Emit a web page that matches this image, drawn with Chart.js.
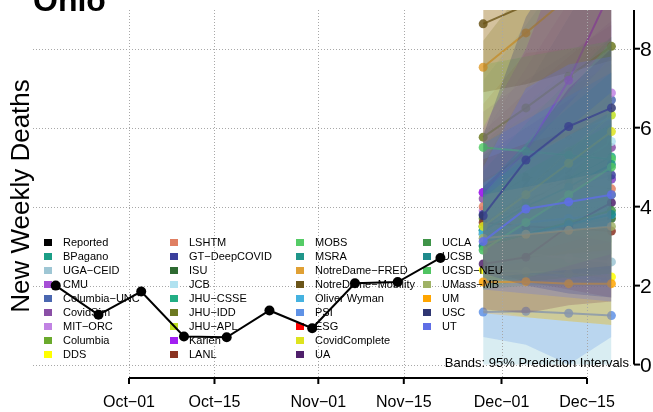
<!DOCTYPE html>
<html>
<head>
<meta charset="utf-8">
<script src="https://cdn.jsdelivr.net/npm/chart.js@4.4.0/dist/chart.umd.min.js"></script>
<style>
  html, body { margin: 0; padding: 0; background: #fff; }
  #wrap { width: 653px; height: 412px; }
</style>
</head>
<body>
<div id="wrap"><canvas id="myChart" width="653" height="412"></canvas></div>
<script>
//Data
const stateName = 'Ohio';
const yTitle = 'New Weekly Deaths';
const bandsNote = 'Bands: 95% Prediction Intervals';

const reportedDates = ['2020-09-19', '2020-09-26', '2020-10-03', '2020-10-10', '2020-10-17',
  '2020-10-24', '2020-10-31', '2020-11-07', '2020-11-14', '2020-11-21'];
const reportedDeaths = [2.0, 1.26, 1.85, 0.71, 0.69, 1.37, 0.92, 2.06, 2.09, 2.7];

const forecastDates = ['2020-11-28', '2020-12-05', '2020-12-12', '2020-12-19'];

const tickDates = ['2020-10-01', '2020-10-15', '2020-11-01', '2020-11-15', '2020-12-01', '2020-12-15'];
const tickLabels = ['Oct−01', 'Oct−15', 'Nov−01', 'Nov−15', 'Dec−01', 'Dec−15'];
const yTicks = [0, 2, 4, 6, 8];

const modelNames = ['BPagano', 'UGA−CEID', 'CMU', 'Columbia−UNC', 'CovidSim', 'MIT−ORC', 'Columbia', 'DDS',
  'LSHTM', 'GT−DeepCOVID', 'ISU', 'JCB', 'JHU−CSSE', 'JHU−IDD', 'JHU−APL', 'Karlen', 'LANL',
  'MOBS', 'MSRA', 'NotreDame−FRED', 'NotreDame−Mobility', 'Oliver Wyman', 'PSI', 'ESG', 'CovidComplete', 'UA',
  'UCLA', 'UCSB', 'UCSD−NEU', 'UMass−MB', 'UM', 'USC', 'UT'];
const modelColors = ['#1b9e86', '#9ec6d4', '#a64fd6', '#4a67b0', '#8a4fa6', '#c183e3', '#6aaa2c', '#ffff00',
  '#e07f62', '#3b3f9c', '#2e6a32', '#b0e2f0', '#22ae85', '#6d7a22', '#bfe022', '#a21ff2', '#8b3322',
  '#55cc66', '#1f968a', '#e0a034', '#6b5519', '#45b2e0', '#5f92e6', '#ff0000', '#dee31e', '#4f1f6b',
  '#3f9448', '#1f8a8c', '#50c462', '#9fb266', '#ffa500', '#2f3672', '#5f6ee6'];

const medians = [
  [3.4, 3.9, 4.3, 4.7], [2.9, 2.8, 2.7, 2.6], [4.36, 4.5, 4.6, 4.7], [3.5, 4.6, 5.7, 6.7],
  [4.2, 4.7, 5.1, 5.5], [3.9, 4.9, 5.8, 6.88], [3.7, 3.9, 4.1, 4.3], [2.4, 2.35, 2.3, 2.22],
  [4.0, 4.75, 4.6, 4.45], [3.8, 4.2, 4.5, 4.8], [3.3, 3.4, 3.55, 3.7], [3.3, 4.1, 4.9, 5.65],
  [3.5, 4.1, 4.7, 5.26], [5.76, 6.5, 7.3, 8.06], [3.5, 4.4, 5.4, 6.32], [4.36, 5.4, 7.2, 9.5],
  [3.6, 3.5, 3.45, 3.38], [5.5, 5.4, 5.3, 5.2], [3.4, 4.0, 4.5, 5.07], [7.53, 8.4, 9.3, 10.2],
  [8.63, 9.1, 9.7, 10.3], [3.34, 3.6, 3.7, 3.8], [1.33, 1.35, 1.3, 1.24], null,
  [3.5, 4.3, 5.1, 5.9], [2.55, 2.72, 3.51, 4.1], [3.0, 3.3, 3.6, 3.9], [3.0, 3.3, 3.55, 3.8],
  [2.9, 3.6, 4.3, 5.0], [3.2, 3.3, 3.4, 3.5], [2.09, 2.1, 2.05, 2.05], [3.77, 5.18, 6.03, 6.5],
  [3.12, 3.94, 4.12, 4.3]
];
const lower95 = [
  [2.1, 2.2, 2.3, 2.4], [0.0, 0.0, 0.0, 0.0], [2.8, 2.6, 2.5, 2.4], [2.3, 2.8, 3.3, 3.7],
  [2.9, 3.1, 3.3, 3.4], [2.5, 3.0, 3.5, 4.0], [2.3, 2.3, 2.3, 2.3], [1.4, 1.2, 1.1, 1.0],
  [2.3, 2.5, 2.3, 2.1], [2.6, 2.7, 2.8, 2.8], [2.2, 2.1, 2.1, 2.0], [0.0, 0.0, 0.0, 0.0],
  [2.4, 2.6, 2.9, 3.1], [3.9, 4.2, 4.5, 4.8], [2.9, 3.5, 4.3, 5.0], [3.1, 3.7, 4.7, 5.9],
  [2.4, 2.1, 1.9, 1.7], [3.8, 3.5, 3.3, 3.1], [2.5, 2.8, 3.1, 3.4], [5.6, 6.2, 6.8, 7.4],
  [6.9, 7.1, 7.4, 7.7], [2.3, 2.3, 2.2, 2.1], [0.7, 0.5, 0.0, 0.7], null,
  [2.9, 3.6, 4.3, 5.0], [1.4, 1.3, 1.5, 1.6], [2.0, 2.1, 2.2, 2.3], [1.9, 2.0, 2.0, 2.0],
  [1.9, 2.2, 2.5, 2.8], [2.2, 2.3, 2.4, 2.5], [1.3, 1.2, 1.1, 1.0], [2.3, 2.0, 1.8, 1.7],
  [1.9, 1.8, 1.7, 1.6]
];
const upper95 = [
  [5.6, 6.6, 7.5, 8.3], [4.6, 4.9, 5.2, 5.5], [6.4, 7.2, 7.9, 8.6], [5.1, 7.0, 8.8, 10.6],
  [5.9, 6.9, 7.8, 8.7], [5.8, 7.5, 9.2, 11.0], [5.6, 6.3, 7.0, 7.6], [3.6, 3.8, 4.0, 4.2],
  [6.6, 7.9, 8.0, 8.1], [5.3, 6.0, 6.7, 7.4], [4.7, 5.2, 5.6, 6.0], [7.2, 8.6, 10.1, 11.6],
  [4.9, 6.1, 7.2, 8.3], [8.2, 9.6, 11.2, 12.8], [4.2, 5.4, 6.6, 7.8], [6.0, 8.0, 10.8, 14.5],
  [5.2, 5.6, 5.9, 6.2], [7.6, 7.8, 8.0, 8.2], [4.5, 5.6, 6.5, 7.4], [9.8, 11.2, 12.6, 14.0],
  [10.8, 11.8, 12.8, 13.8], [4.6, 5.3, 5.8, 6.3], [2.5, 2.7, 2.8, 2.9], null,
  [4.2, 5.1, 6.0, 6.9], [4.5, 5.5, 7.0, 8.0], [4.3, 4.9, 5.5, 6.1], [4.5, 5.2, 5.8, 6.4],
  [4.3, 5.6, 6.9, 8.2], [4.3, 4.5, 4.7, 4.9], [3.1, 3.3, 3.4, 3.5], [5.8, 8.8, 10.5, 12.0],
  [5.0, 7.0, 7.6, 7.8]
];

//Helpers
function dayOf(str) {
  p = str.split('-');
  return (Date.UTC(+p[0], +p[1] - 1, +p[2]) - Date.UTC(2020, 9, 1)) / 86400000;
}

function rgba(hex, a) {
  n = parseInt(hex.slice(1), 16);
  return 'rgba(' + (n >> 16 & 255) + ',' + (n >> 8 & 255) + ',' + (n & 255) + ',' + a + ')';
}

function toPoints(dates, values) {
  return dates.map((d, i) => ({x: dayOf(d), y: values[i]}));
}

const FONT = '"Liberation Sans", Arial, Helvetica, sans-serif';

//Datasets: each model gets its band and then its line, later models on top
datasets = [];
nModels = modelNames.length;
for (i = 0; i < nModels; i++) {
  if (!medians[i]) continue;
  bandOrder = 2 * (nModels - i) + 2;
  datasets.push({
    data: toPoints(forecastDates, lower95[i]),
    borderColor: 'transparent', borderWidth: 0, pointRadius: 0, fill: false, order: bandOrder
  });
  datasets.push({
    data: toPoints(forecastDates, upper95[i]),
    borderColor: 'transparent', borderWidth: 0, pointRadius: 0,
    fill: '-1', backgroundColor: rgba(modelColors[i], 0.25), order: bandOrder
  });
  datasets.push({
    data: toPoints(forecastDates, medians[i]),
    borderColor: rgba(modelColors[i], 0.8), borderWidth: 2,
    pointRadius: 4.5, pointBackgroundColor: rgba(modelColors[i], 0.85), pointBorderWidth: 0,
    fill: false, order: bandOrder - 1
  });
}
datasets.push({
  data: toPoints(reportedDates, reportedDeaths),
  borderColor: '#000', borderWidth: 2, pointRadius: 5, pointBackgroundColor: '#000',
  pointBorderWidth: 0, fill: false, order: 0
});

//Decorations: grid, axes, legend, texts
legendDrawn = false;

function drawLegend(ctx) {
  names = ['Reported'].concat(modelNames);
  colors = ['#000000'].concat(modelColors);
  colX = [44, 170, 296, 423];
  ctx.save();
  ctx.font = '11px ' + FONT;
  ctx.textBaseline = 'middle';
  ctx.textAlign = 'left';
  for (k = 0; k < names.length; k++) {
    col = Math.floor(k / 9);
    row = k % 9;
    y = 242.5 + row * 14;
    ctx.fillStyle = colors[k];
    ctx.fillRect(colX[col], y - 3.5, 8, 7);
    ctx.fillStyle = '#000';
    ctx.fillText(names[k], colX[col] + 19, y + 0.5);
  }
  ctx.restore();
}

function drawVerticalGrid(chart) {
  ctx = chart.ctx;
  a = chart.chartArea;
  ctx.save();
  ctx.strokeStyle = '#a8a8a8';
  ctx.lineWidth = 1;
  ctx.setLineDash([1, 2]);
  tickDates.forEach(function (d) {
    x = Math.round(chart.scales.x.getPixelForValue(dayOf(d))) + 0.5;
    ctx.beginPath();
    ctx.moveTo(x, a.top);
    ctx.lineTo(x, a.bottom);
    ctx.stroke();
  });
  ctx.restore();
}

const decorPlugin = {
  id: 'decor',
  beforeDatasetsDraw(chart) {
    ctx = chart.ctx;
    a = chart.chartArea;
    xs = chart.scales.x;
    ys = chart.scales.y;
    legendDrawn = false;
    ctx.save();
    // horizontal grid
    ctx.strokeStyle = '#a8a8a8';
    ctx.lineWidth = 1;
    ctx.setLineDash([1, 2]);
    yTicks.forEach(function (v) {
      y = Math.round(ys.getPixelForValue(v)) + 0.5;
      ctx.beginPath();
      ctx.moveTo(a.left, y);
      ctx.lineTo(a.right, y);
      ctx.stroke();
    });
    ctx.setLineDash([]);
    // y axis on the right
    ctx.strokeStyle = '#000';
    ctx.lineWidth = 2;
    ax = 634;
    ctx.beginPath();
    ctx.moveTo(ax, a.top);
    ctx.lineTo(ax, ys.getPixelForValue(0));
    ctx.stroke();
    ctx.fillStyle = '#000';
    ctx.font = '21px ' + FONT;
    ctx.textAlign = 'left';
    ctx.textBaseline = 'alphabetic';
    yTicks.forEach(function (v) {
      y = ys.getPixelForValue(v);
      ctx.beginPath();
      ctx.moveTo(ax, y);
      ctx.lineTo(ax + 6, y);
      ctx.stroke();
      ctx.fillText(String(v), 640, y + 7.5);
    });
    // x axis at the bottom
    x0 = xs.getPixelForValue(dayOf(tickDates[0]));
    x1 = xs.getPixelForValue(dayOf(tickDates[tickDates.length - 1]));
    ctx.beginPath();
    ctx.moveTo(x0, 378);
    ctx.lineTo(x1, 378);
    ctx.stroke();
    ctx.font = '16px ' + FONT;
    ctx.textAlign = 'center';
    tickDates.forEach(function (d, i) {
      x = xs.getPixelForValue(dayOf(d));
      ctx.beginPath();
      ctx.moveTo(x, 378);
      ctx.lineTo(x, 384);
      ctx.stroke();
      ctx.fillText(tickLabels[i], x, 407);
    });
    // title
    ctx.font = 'bold 32px ' + FONT;
    ctx.textAlign = 'left';
    ctx.fillText(stateName, 33, 11);
    // y title
    ctx.translate(29, 196);
    ctx.rotate(-Math.PI / 2);
    ctx.font = '26px ' + FONT;
    ctx.textAlign = 'center';
    ctx.fillText(yTitle, 0, 0);
    ctx.restore();
  },
  beforeDatasetDraw(chart, args) {
    if (!legendDrawn && chart.data.datasets[args.index].order === 0) {
      drawVerticalGrid(chart);
      drawLegend(chart.ctx);
      legendDrawn = true;
    }
  },
  afterDatasetsDraw(chart) {
    ctx = chart.ctx;
    ctx.save();
    ctx.font = '13px ' + FONT;
    ctx.fillStyle = '#000';
    ctx.textAlign = 'right';
    ctx.textBaseline = 'alphabetic';
    ctx.fillText(bandsNote, 629, 367);
    ctx.restore();
  }
};

const config = {
  type: 'line',
  data: {datasets: datasets},
  options: {
    responsive: false,
    animation: false,
    devicePixelRatio: 1,
    layout: {padding: {left: 33, right: 21, top: 10, bottom: 34}},
    elements: {line: {tension: 0}},
    plugins: {
      legend: {display: false},
      tooltip: {enabled: false},
      title: {display: false}
    },
    scales: {
      x: {type: 'linear', display: false, min: -15.72, max: 82.37},
      y: {type: 'linear', display: false, min: -0.34, max: 8.98}
    }
  },
  plugins: [decorPlugin]
};

const myChart = new Chart(document.getElementById('myChart'), config);
</script>
</body>
</html>
